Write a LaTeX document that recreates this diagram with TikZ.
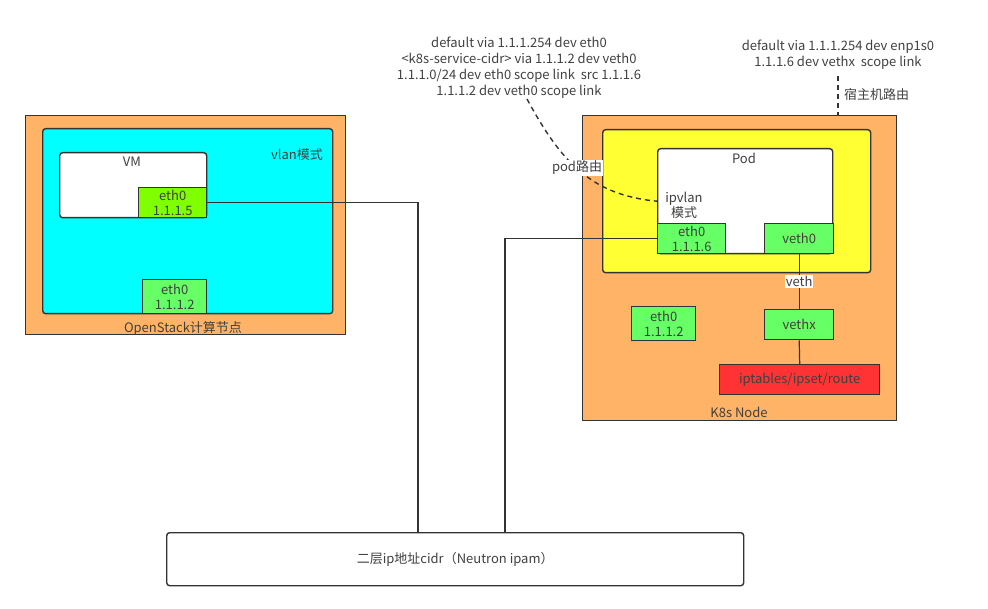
\documentclass[tikz,border=0pt]{standalone}
\usepackage{fontspec}
\setmainfont{Noto Sans CJK SC}
\definecolor{edge}{HTML}{333333}
\definecolor{txt}{HTML}{404040}
\definecolor{hostor}{HTML}{FFB366}
\definecolor{vlancy}{HTML}{00FFFF}
\definecolor{podyel}{HTML}{FFFF33}
\definecolor{nicgreen}{HTML}{66FF66}
\definecolor{vmgreen}{HTML}{80FF00}
\definecolor{iptred}{HTML}{FF3333}

\begin{document}
\begin{tikzpicture}[x=1pt, y=-1pt, text=txt, font=\fontsize{13}{15}\selectfont,
  box/.style={draw=edge, line width=1.4pt, anchor=north west, inner sep=0pt},
  rbox/.style={box, rounded corners=3pt},
  nic/.style={box, fill=nicgreen, align=center, font=\fontsize{13}{14.5}\selectfont},
  lbl/.style={align=center, inner sep=1pt},
  link/.style={draw=edge, line width=1.2pt},
  route/.style={link, dashed, dash pattern=on 5pt off 4pt, line width=1.4pt}]
\useasboundingbox (0,0) rectangle (988,609);

% OpenStack compute node
\node[box, fill=hostor, minimum width=320pt, minimum height=219pt] (osn) at (25,115) {};
\node[rbox, fill=vlancy, minimum width=290pt, minimum height=185pt] (vlan) at (42,128) {};
\node[rbox, fill=white, minimum width=147pt, minimum height=65pt] (vm) at (59,152) {};
\node[lbl] at (132,162) {VM};
\node[nic, fill=vmgreen, minimum width=68pt, minimum height=30pt] (vmeth) at (138,187) {eth0\\1.1.1.5};
\node[nic, minimum width=64pt, minimum height=34pt] (oseth) at (142,279) {eth0\\1.1.1.2};
\node[lbl] at (297,155) {vlan模式};
\node[lbl] at (183,328) {OpenStack计算节点};

% K8s node
\node[box, fill=hostor, minimum width=314pt, minimum height=305pt] (k8s) at (582,115) {};
\node[rbox, fill=podyel, minimum width=268pt, minimum height=143pt] (ns) at (602,129) {};
\node[rbox, fill=white, minimum width=175pt, minimum height=105pt] (pod) at (657,148) {};
\node[lbl] at (744,158) {Pod};
\node[lbl] at (684,205) {ipvlan\\模式};
\node[nic, minimum width=68pt, minimum height=30pt] (podeth) at (657,223) {eth0\\1.1.1.6};
\node[nic, minimum width=69pt, minimum height=30pt] (veth) at (764,223) {veth0};
\node[nic, minimum width=69pt, minimum height=30pt] (vethx) at (764,309) {vethx};
\node[nic, minimum width=64pt, minimum height=34pt] (k8seth) at (631,306) {eth0\\1.1.1.2};
\node[box, fill=iptred, minimum width=160pt, minimum height=30pt] (ipt) at (719,364) {iptables/ipset/route};
\node[lbl] at (739,412) {K8s Node};

% underlay network
\node[rbox, fill=white, minimum width=577pt, minimum height=53pt] (l2) at (166,532) {};
\node[lbl] at (l2.center) {二层ip地址cidr（Neutron ipam）};
\coordinate (j1) at (418,532);
\coordinate (j2) at (505,532);

% routes
\node[lbl, font=\fontsize{13}{16}\selectfont] (rt1) at (519,68)
  {default via 1.1.1.254 dev eth0\\<k8s-service-cidr> via 1.1.1.2 dev veth0\\1.1.1.0/24 dev eth0 scope link\ \ src 1.1.1.6\\1.1.1.2 dev veth0 scope link};
\node[lbl, font=\fontsize{13}{16}\selectfont] (rt2) at (838,55)
  {default via 1.1.1.254 dev enp1s0\\1.1.1.6 dev vethx\ \ scope link};
\coordinate (p0) at (527,99);
\coordinate (p1) at (pod.west);
\coordinate (h0) at (838,76);

\draw[link] (vmeth.east) -| (j1);
\draw[link] (podeth.west) -| (j2);
\draw[link] (veth.south) -- node[fill=white, inner sep=1pt] {veth} (vethx.north);
\draw[link] (vethx.south) -- (ipt.north);
\draw[route] (p0) .. controls (560,160) and (590,195) .. (p1);
\node[lbl, fill=white] at (577,168) {pod路由};
\draw[route] (h0) -- (h0 |- k8s.north);
\node[lbl, anchor=west] at (843,95) {宿主机路由};
\end{tikzpicture}
\end{document}
